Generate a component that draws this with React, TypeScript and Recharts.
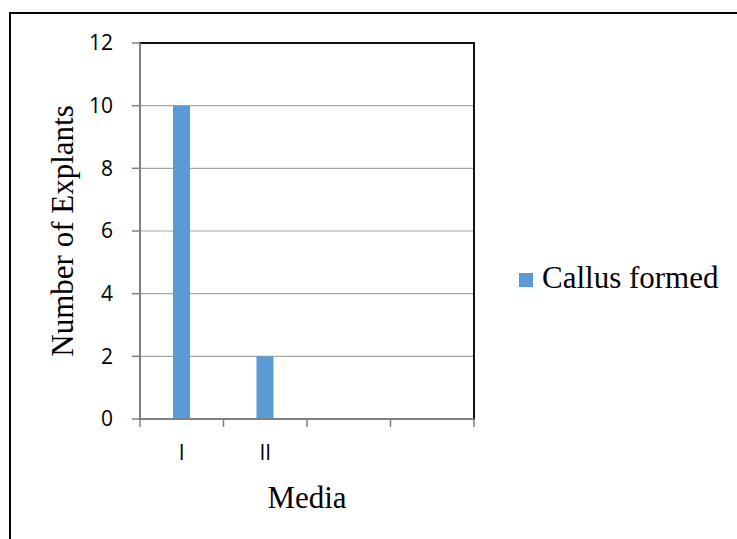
import { BarChart, Bar, XAxis, YAxis, CartesianGrid, Legend, ReferenceArea } from "recharts"

const media = ["I", "II", "", ""]
const callusFormed = [10, 2, null, null]
const yTicks = [0, 2, 4, 6, 8, 10, 12]

const data = media.map((m, i) => ({ media: m, callus: callusFormed[i] }))

const W = 737
const H = 539
const margin = { top: 43, right: 263, bottom: 20, left: 0 }
const yAxisWidth = 140
const xAxisHeight = 100
const tickSize = 8
const tickGap = 18
const band = (W - margin.left - margin.right - yAxisWidth) / media.length
const serif = "'Liberation Serif', 'Times New Roman', serif"

function MediaTick(props: any) {
  const { x, y, payload, index } = props
  const lineTop = y - tickSize - tickGap
  const lineBot = y - tickGap
  return (
    <g>
      <line x1={x - band / 2} x2={x - band / 2} y1={lineTop} y2={lineBot} stroke="#808080" strokeWidth={1.5} />
      {index === media.length - 1 && (
        <line x1={x + band / 2} x2={x + band / 2} y1={lineTop} y2={lineBot} stroke="#808080" strokeWidth={1.5} />
      )}
      <text x={x} y={y} dy="0.71em" textAnchor="middle" fontFamily="'Open Sans', sans-serif" fontSize={21} fill="#000">
        {payload.value}
      </text>
    </g>
  )
}

function YLabel(props: any) {
  const { viewBox } = props
  const cx = viewBox.x + 73
  const cy = viewBox.y + viewBox.height / 2
  return (
    <text x={cx} y={cy} transform={`rotate(-90, ${cx}, ${cy})`} textAnchor="middle"
      fontFamily={serif} fontSize={31} fill="#000">
      Number of Explants
    </text>
  )
}

function LegendBox() {
  return (
    <div style={{ display: "flex", alignItems: "center", lineHeight: "36px" }}>
      <span style={{ width: 14, height: 14, background: "#5B9BD5", marginRight: 9, marginTop: 3, display: "inline-block" }} />
      <span style={{ fontFamily: serif, fontSize: 31, color: "#000" }}>Callus formed</span>
    </div>
  )
}

export default function App() {
  return (
    <div style={{ position: "absolute", left: 0, top: 0, width: W, height: H, overflow: "hidden", background: "#fff" }}>
      <div style={{ position: "absolute", left: 9, top: 12, width: 2000, height: 2000, border: "2px solid #000" }} />
      <div style={{ position: "absolute", left: 0, top: 0 }}>
        <BarChart width={W} height={H} data={data} margin={margin} barCategoryGap={0}>
          <ReferenceArea y1={0} y2={12} fill="none" stroke="#111" strokeWidth={2} fillOpacity={0} />
          <CartesianGrid vertical={false} stroke="#A6A6A6" strokeWidth={1.2} />
          <XAxis
            dataKey="media"
            height={xAxisHeight}
            axisLine={{ stroke: "#808080", strokeWidth: 2 }}
            tickLine={false}
            tickSize={tickSize}
            tickMargin={tickGap}
            tick={<MediaTick />}
            interval={0}
            label={{
              value: "Media",
              position: "insideBottom",
              offset: 11,
              fontFamily: serif,
              fontSize: 31,
              fill: "#000",
            }}
          />
          <YAxis
            domain={[0, 12]}
            ticks={yTicks}
            width={yAxisWidth}
            axisLine={{ stroke: "#808080", strokeWidth: 2 }}
            tickLine={{ stroke: "#808080", strokeWidth: 1.5 }}
            tickSize={tickSize}
            tickMargin={19}
            tick={{ fontFamily: "'Open Sans', sans-serif", fontSize: 21, fill: "#000" }}
            label={<YLabel />}
          />
          <Legend
            layout="vertical"
            verticalAlign="middle"
            align="center"
            content={<LegendBox />}
            wrapperStyle={{ position: "absolute", left: 519, top: 260, width: 210 }}
          />
          <Bar dataKey="callus" name="Callus formed" fill="#5B9BD5" barSize={17} isAnimationActive={false} />
        </BarChart>
      </div>
    </div>
  )
}
